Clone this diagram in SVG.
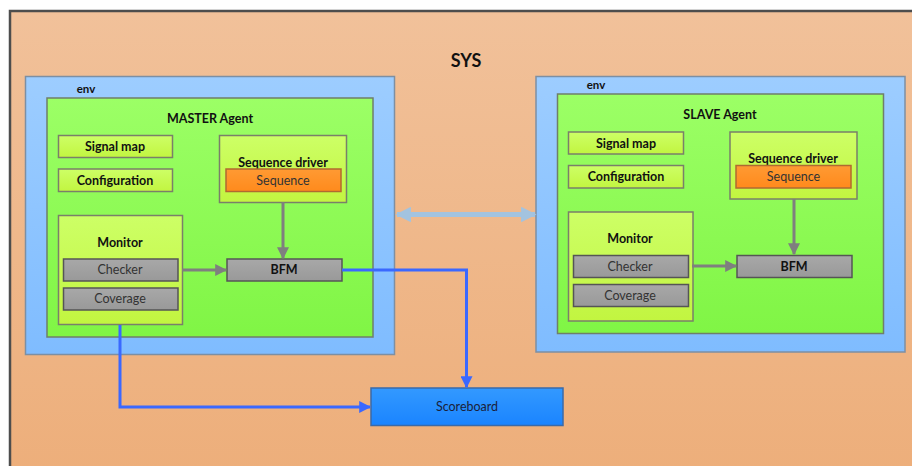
<svg xmlns="http://www.w3.org/2000/svg" width="912" height="466" viewBox="0 0 912 466">
  <defs>
    <linearGradient id="gSys" x1="0" y1="0" x2="0" y2="1">
      <stop offset="0" stop-color="#f1c19a"/>
      <stop offset="1" stop-color="#edae7a"/>
    </linearGradient>
    <linearGradient id="gEnv" x1="0" y1="0" x2="0" y2="1">
      <stop offset="0" stop-color="#9dcdff"/>
      <stop offset="1" stop-color="#7fbcff"/>
    </linearGradient>
    <linearGradient id="gAgent" x1="0" y1="0" x2="0" y2="1">
      <stop offset="0" stop-color="#9cff66"/>
      <stop offset="1" stop-color="#80f545"/>
    </linearGradient>
    <linearGradient id="gLime" x1="0" y1="0" x2="0" y2="1">
      <stop offset="0" stop-color="#cdff66"/>
      <stop offset="1" stop-color="#c2f540"/>
    </linearGradient>
    <linearGradient id="gGrey" x1="0" y1="0" x2="0" y2="1">
      <stop offset="0" stop-color="#a8a8a8"/>
      <stop offset="1" stop-color="#999999"/>
    </linearGradient>
    <linearGradient id="gOrange" x1="0" y1="0" x2="0" y2="1">
      <stop offset="0" stop-color="#ff9a33"/>
      <stop offset="1" stop-color="#ff8a1c"/>
    </linearGradient>
    <linearGradient id="gScore" x1="0" y1="0" x2="0" y2="1">
      <stop offset="0" stop-color="#3399ff"/>
      <stop offset="1" stop-color="#1a84ff"/>
    </linearGradient>
    <marker id="arrGrey" viewBox="0 0 10 10" refX="9" refY="5" markerWidth="4" markerHeight="4" orient="auto" markerUnits="strokeWidth">
      <path d="M0,0 L10,5 L0,10 z" fill="#7f7f7f"/>
    </marker>
    <marker id="arrBlue" viewBox="0 0 10 10" refX="9" refY="5" markerWidth="4" markerHeight="4" orient="auto" markerUnits="strokeWidth">
      <path d="M0,0 L10,5 L0,10 z" fill="#3a68ff"/>
    </marker>
    <marker id="arrLight" viewBox="0 0 10 10" refX="9" refY="5" markerWidth="4.2" markerHeight="3.1" orient="auto-start-reverse" markerUnits="strokeWidth">
      <path d="M0,0 L10,5 L0,10 z" fill="#a3c3df"/>
    </marker>
  </defs>
  <style>
    text { font-family: Lato, "Open Sans", "Liberation Sans", sans-serif; text-anchor: middle; dominant-baseline: central; }
    .b { font-weight: bold; fill: #111; font-size: 12.5px; }
    .r { fill: #333; font-size: 12.5px; }
    .env { fill: url(#gEnv); stroke: #7d8fa3; stroke-width: 1.5; }
    .agent { fill: url(#gAgent); stroke: #6f7f6a; stroke-width: 1.5; }
    .lime { fill: url(#gLime); stroke: #7a7f6a; stroke-width: 1.5; }
    .grey { fill: url(#gGrey); stroke: #555; stroke-width: 1.5; }
    .orange { fill: url(#gOrange); stroke: #b06a30; stroke-width: 1.5; }
    .gline { fill: none; stroke: #7f7f7f; stroke-width: 3; marker-end: url(#arrGrey); }
    .bline { fill: none; stroke: #3a68ff; stroke-width: 3; marker-end: url(#arrBlue); }
  </style>

  <rect x="0" y="0" width="912" height="466" fill="#ffffff"/>

  <!-- system frame -->
  <g id="sys">
    <rect x="10" y="11" width="910" height="470" fill="url(#gSys)" stroke="#4d4d4d" stroke-width="2.5"/>
    <text x="466" y="60" class="b" style="font-size:18px">SYS</text>
  </g>

  <!-- master side -->
  <g id="master-env">
    <rect x="25.5" y="76.5" width="369" height="278" class="env"/>
    <text x="86" y="88" class="b" style="font-size:11.5px">env</text>
  </g>
  <g id="master-agent">
    <rect x="47" y="98" width="326" height="239" class="agent"/>
    <text x="210" y="118" class="b">MASTER Agent</text>
  </g>
  <g id="master-signal-map">
    <rect x="58.5" y="135.5" width="114" height="22" class="lime"/>
    <text x="115" y="146.5" class="b">Signal map</text>
  </g>
  <g id="master-configuration">
    <rect x="58.5" y="169" width="114" height="22.5" class="lime"/>
    <text x="115" y="180" class="b">Configuration</text>
  </g>
  <g id="master-sequence-driver">
    <rect x="219.5" y="135.5" width="127" height="67" class="lime"/>
    <text x="283" y="162" class="b">Sequence driver</text>
  </g>
  <g id="master-sequence">
    <rect x="226" y="169" width="115" height="22.5" class="orange"/>
    <text x="283" y="180" class="r">Sequence</text>
  </g>
  <g id="master-monitor">
    <rect x="58.5" y="215.5" width="124" height="109" class="lime"/>
    <text x="120" y="242" class="b">Monitor</text>
  </g>
  <g id="master-checker">
    <rect x="63.5" y="259" width="114.5" height="22" class="grey"/>
    <text x="120" y="269.5" class="r">Checker</text>
  </g>
  <g id="master-coverage">
    <rect x="63.5" y="288" width="114.5" height="22" class="grey"/>
    <text x="120" y="298.5" class="r">Coverage</text>
  </g>
  <g id="master-bfm">
    <rect x="227" y="259" width="115" height="22" class="grey"/>
    <text x="284" y="269.5" class="b">BFM</text>
  </g>

  <!-- slave side -->
  <g id="slave-env">
    <rect x="536" y="76.5" width="369" height="275.5" class="env"/>
    <text x="596" y="84" class="b" style="font-size:11.5px">env</text>
  </g>
  <g id="slave-agent">
    <rect x="557.5" y="94" width="326" height="239.5" class="agent"/>
    <text x="720" y="114.5" class="b">SLAVE Agent</text>
  </g>
  <g id="slave-signal-map">
    <rect x="568.5" y="132" width="115" height="22" class="lime"/>
    <text x="626" y="143" class="b">Signal map</text>
  </g>
  <g id="slave-configuration">
    <rect x="568.5" y="165.5" width="115" height="22.5" class="lime"/>
    <text x="626" y="176.5" class="b">Configuration</text>
  </g>
  <g id="slave-sequence-driver">
    <rect x="730" y="132" width="127" height="67" class="lime"/>
    <text x="793" y="158.5" class="b">Sequence driver</text>
  </g>
  <g id="slave-sequence">
    <rect x="736" y="165.5" width="115" height="22.5" class="orange"/>
    <text x="793.5" y="176.5" class="r">Sequence</text>
  </g>
  <g id="slave-monitor">
    <rect x="568.5" y="212" width="124.5" height="109" class="lime"/>
    <text x="630" y="238.5" class="b">Monitor</text>
  </g>
  <g id="slave-checker">
    <rect x="573.5" y="255.5" width="115" height="22" class="grey"/>
    <text x="630" y="266" class="r">Checker</text>
  </g>
  <g id="slave-coverage">
    <rect x="573.5" y="284.5" width="115" height="22" class="grey"/>
    <text x="630" y="295.5" class="r">Coverage</text>
  </g>
  <g id="slave-bfm">
    <rect x="737" y="255.5" width="115" height="22" class="grey"/>
    <text x="794" y="266" class="b">BFM</text>
  </g>

  <!-- scoreboard -->
  <g id="scoreboard">
    <rect x="371" y="388" width="192" height="37.5" fill="url(#gScore)" stroke="#3b6aa8" stroke-width="1.5"/>
    <text x="467" y="406.5" class="r" style="fill:#1a1f3a">Scoreboard</text>
  </g>

  <!-- connectors -->
  <g id="connectors">
    <line x1="283" y1="202" x2="283" y2="258" class="gline"/>
    <line x1="182" y1="270" x2="226" y2="270" class="gline"/>
    <line x1="794" y1="199" x2="794" y2="254" class="gline"/>
    <line x1="692" y1="266" x2="736" y2="266" class="gline"/>
    <polyline points="342,270 466.5,270 466.5,387" class="bline"/>
    <polyline points="120,325 120,407 370,407" class="bline"/>
    <line x1="397" y1="214.5" x2="535" y2="214.5" fill="none" stroke="#a3c3df" stroke-width="5" marker-start="url(#arrLight)" marker-end="url(#arrLight)"/>
  </g>
</svg>
